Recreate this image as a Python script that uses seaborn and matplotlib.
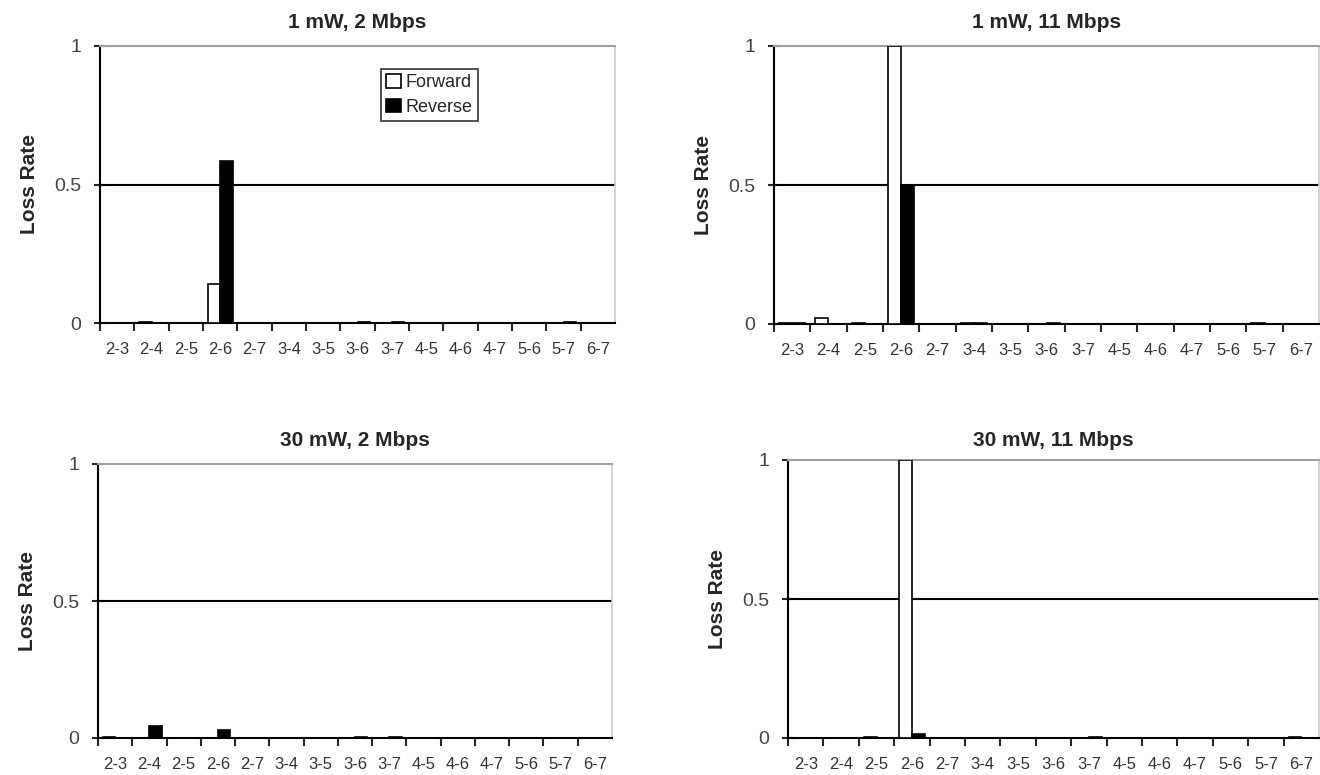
import numpy as np
import pandas as pd
import matplotlib
matplotlib.use('Agg')
import matplotlib.pyplot as plt
import seaborn as sns

# Node pairs on the x axis
pairs = ['2-3', '2-4', '2-5', '2-6', '2-7', '3-4', '3-5', '3-6',
         '3-7', '4-5', '4-6', '4-7', '5-6', '5-7', '6-7']

# Loss rates, one list per panel and direction
fwd_1mw_2 = [0, 0.005, 0, 0.14, 0, 0, 0, 0, 0, 0, 0, 0, 0, 0, 0]
rev_1mw_2 = [0, 0, 0, 0.585, 0, 0, 0, 0.005, 0.005, 0, 0, 0, 0, 0.005, 0]

fwd_1mw_11 = [0.005, 0.02, 0.005, 1.0, 0, 0.005, 0, 0, 0, 0, 0, 0, 0, 0.005, 0]
rev_1mw_11 = [0.005, 0, 0, 0.5, 0, 0.005, 0, 0.005, 0, 0, 0, 0, 0, 0, 0]

fwd_30mw_2 = [0.005, 0, 0, 0, 0, 0, 0, 0, 0, 0, 0, 0, 0, 0, 0]
rev_30mw_2 = [0, 0.045, 0, 0.03, 0, 0, 0, 0.005, 0.005, 0, 0, 0, 0, 0, 0]

fwd_30mw_11 = [0, 0, 0.005, 1.0, 0, 0, 0, 0, 0, 0, 0, 0, 0, 0, 0.005]
rev_30mw_11 = [0, 0, 0, 0.015, 0, 0, 0, 0, 0.005, 0, 0, 0, 0, 0, 0]

titles = ['1 mW, 2 Mbps', '1 mW, 11 Mbps', '30 mW, 2 Mbps', '30 mW, 11 Mbps']
series = [(fwd_1mw_2, rev_1mw_2), (fwd_1mw_11, rev_1mw_11),
          (fwd_30mw_2, rev_30mw_2), (fwd_30mw_11, rev_30mw_11)]

sns.set_style('white')
plt.rcParams['font.family'] = ['Liberation Sans', 'DejaVu Sans']

W, H = 1320, 775
fig = plt.figure(figsize=(W / 100, H / 100), dpi=100)

# axes boxes in pixels: left, top, right, bottom; plus title height
boxes = [(100, 46, 615, 323), (774, 46, 1319, 324),
         (98, 464, 612, 738), (788, 460, 1319, 738)]
title_y = [22, 22, 440, 440]

for i, (title, (fwd, rev), box) in enumerate(zip(titles, series, boxes)):
    l, t, r, b = box
    ax = fig.add_axes([l / W, 1 - b / H, (r - l) / W, (b - t) / H])

    df = pd.DataFrame({
        'pair': pairs * 2,
        'loss': fwd + rev,
        'direction': ['Forward'] * len(pairs) + ['Reverse'] * len(pairs),
    })
    sns.barplot(data=df, x='pair', y='loss', hue='direction',
                palette={'Forward': 'white', 'Reverse': 'black'},
                edgecolor='black', linewidth=1.2, width=0.72,
                legend=(i == 0), ax=ax, zorder=3)

    ax.axhline(0.5, color='black', lw=1.5, zorder=1)
    ax.set_xlim(-0.5, 14.5)
    ax.set_ylim(0, 1)
    ax.set_yticks([0, 0.5, 1])
    ax.set_yticklabels(['0', '0.5', '1'])
    ax.tick_params(axis='y', left=True, direction='inout', length=9,
                   width=1.5, labelsize=14, labelcolor='#444444', pad=9)

    # tick marks between categories, labels centred
    ax.set_xticks(np.arange(15))
    ax.set_xticklabels(pairs)
    ax.set_xticks(np.arange(-0.5, 14), minor=True)
    ax.tick_params(axis='x', which='major', bottom=True, length=0,
                   labelsize=12, labelcolor='#333333', pad=14)
    ax.tick_params(axis='x', which='minor', bottom=True, direction='out',
                   length=6, width=1.5)

    for side in ['left', 'bottom']:
        ax.spines[side].set_color('black')
        ax.spines[side].set_linewidth(1.5)
    ax.spines['top'].set_color('#a0a0a0')
    ax.spines['top'].set_linewidth(1.5)
    ax.spines['right'].set_color('#cccccc')
    ax.spines['right'].set_linewidth(1.2)

    ax.set_xlabel('')
    ax.set_ylabel('Loss Rate', fontsize=15, fontweight='bold', labelpad=11)
    fig.text((l + r) / 2 / W, 1 - title_y[i] / H, title, fontsize=15,
             fontweight='bold', ha='center', va='center')

    if i == 0:
        leg = ax.legend(loc='upper left', bbox_to_anchor=(0.545, 0.918),
                        fontsize=13, frameon=True, fancybox=False,
                        handlelength=0.8, handleheight=0.8,
                        handletextpad=0.3, borderpad=0.3,
                        labelspacing=0.4, borderaxespad=0)
        leg.get_frame().set_edgecolor('black')
        leg.get_frame().set_linewidth(1.2)

fig.savefig('out.png', dpi=100)
